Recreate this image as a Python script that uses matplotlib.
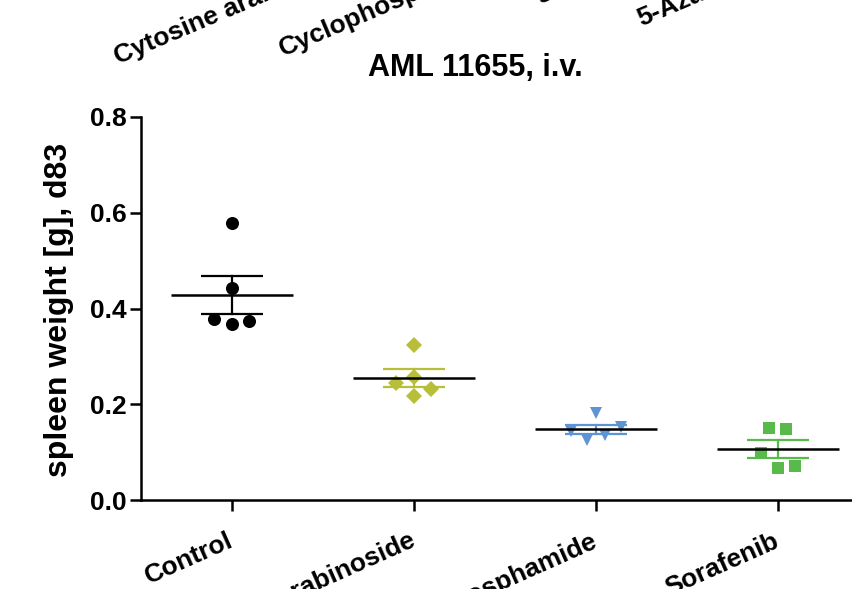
import matplotlib
matplotlib.use("Agg")
import matplotlib.pyplot as plt
import matplotlib.transforms as mtransforms
import numpy as np

plt.rcParams['font.family'] = ['Liberation Sans', 'DejaVu Sans']
plt.rcParams['font.weight'] = 'bold'

# ---------------- data ----------------
categories = ["Control", "Cytosine arabinoside", "Cyclophosphamide", "Sorafenib"]
control = [0.578, 0.442, 0.378, 0.367, 0.374]
cytarabine = [0.323, 0.257, 0.244, 0.231, 0.217]
cyclophosphamide = [0.181, 0.152, 0.144, 0.136, 0.125]
sorafenib = [0.150, 0.148, 0.098, 0.067, 0.071]
# horizontal scatter offsets of the individual points (category units)
jitter_control = [0.0, 0.0, -0.10, 0.0, 0.095]
jitter_cytarabine = [0.0, 0.0, -0.10, 0.095, 0.0]
jitter_cyclophosphamide = [0.0, 0.14, -0.14, 0.05, -0.05]
jitter_sorafenib = [-0.05, 0.045, -0.095, 0.0, 0.095]
y_ticks = [0.0, 0.2, 0.4, 0.6, 0.8]
y_tick_labels = ["0.0", "0.2", "0.4", "0.6", "0.8"]
title = "AML 11655, i.v."
y_label = "spleen weight [g], d83"
# tick labels of the panel above (cut off by the crop)
top_labels = ["Cytosine arabinoside", "Cyclophosphamide", "g", "5-Azacytidine"]

groups = [control, cytarabine, cyclophosphamide, sorafenib]
jitters = [jitter_control, jitter_cytarabine, jitter_cyclophosphamide, jitter_sorafenib]
colors = ["#000000", "#B7BE38", "#5E93D4", "#58BA4A"]
markers = ["o", "D", "v", "s"]
msizes = [9.4, 7.8, 9.3, 9.2]

W, H = 852, 589
fig = plt.figure(figsize=(W / 100, H / 100), dpi=100)
ax = fig.add_axes([141 / W, (H - 500) / H, 728 / W, 383 / H])

for i, (vals, jit) in enumerate(zip(groups, jitters)):
    vals = np.asarray(vals)
    xs = i + np.asarray(jit)
    ax.plot(xs, vals, linestyle="none", marker=markers[i], markersize=msizes[i],
            color=colors[i], markeredgewidth=0, zorder=2, clip_on=False)
    m = vals.mean()
    sem = vals.std(ddof=1) / np.sqrt(len(vals))
    # SEM bar
    ax.plot([i, i], [m - sem, m + sem], color=colors[i], lw=1.6, zorder=3)
    for yy in (m - sem, m + sem):
        ax.plot([i - 0.17, i + 0.17], [yy, yy], color=colors[i], lw=1.6, zorder=3,
                solid_capstyle="butt")
    # mean line
    ax.plot([i - 0.335, i + 0.335], [m, m], color="black", lw=1.8, zorder=4,
            solid_capstyle="butt")

ax.set_xlim(-0.5, 3.5)
ax.set_ylim(0, 0.8)
for s in ("top", "right"):
    ax.spines[s].set_visible(False)
for s in ("left", "bottom"):
    ax.spines[s].set_linewidth(1.8)
    ax.spines[s].set_capstyle("projecting")

ax.set_yticks(y_ticks)
ax.set_yticklabels(y_tick_labels, fontsize=19, fontweight="bold")
ax.set_xticks(range(len(categories)))
ax.set_xticklabels([])
ax.tick_params(axis="both", length=8, width=1.8, direction="out")
ax.tick_params(axis="y", pad=2)

ROT_BOTTOM = 24
ROT_TOP = 23
# rotated category labels (right end anchored at the tick)
trans = mtransforms.blended_transform_factory(ax.transData, fig.transFigure)
for i, lab in enumerate(categories):
    ax.text(i + 0.015, 1 - 546 / H, lab, transform=trans, rotation=ROT_BOTTOM,
            rotation_mode="anchor", ha="right", va="baseline",
            fontsize=19, fontweight="bold", clip_on=False)

# title and y label
fig.text(475 / W, 1 - 76 / H, title, ha="center", va="baseline",
         fontsize=22, fontweight="bold")
fig.text(59 / W, 1 - 310 / H, y_label, rotation=90, ha="center", va="center",
         fontsize=23, fontweight="bold")

# cut-off labels of the panel above
top_pos = [(118, 64), (283, 56), (538, -1), (641, 26)]
for lab, (px, py) in zip(top_labels, top_pos):
    fig.text(px / W, 1 - py / H, lab, rotation=ROT_TOP, rotation_mode="anchor",
             ha="left", va="baseline", fontsize=19, fontweight="bold")

fig.savefig("out.png", dpi=100)
